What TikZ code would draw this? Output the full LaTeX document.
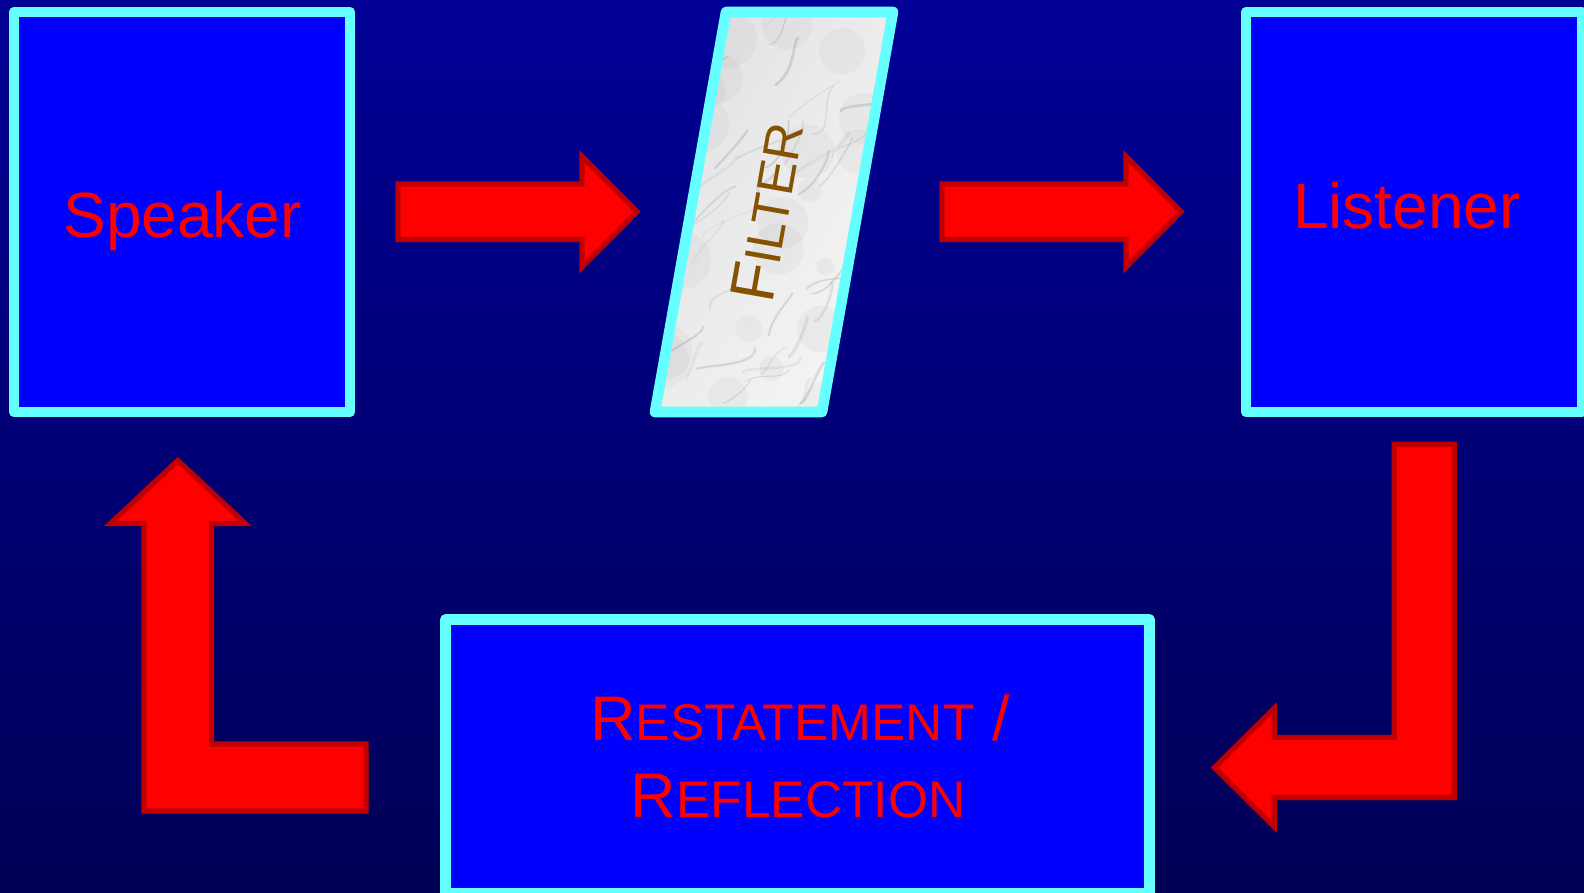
\documentclass[tikz,border=0pt]{standalone}
\usepackage{fontspec}
\setmainfont{Liberation Sans}
\definecolor{bgtop}{RGB}{0,0,150}
\definecolor{bgbot}{RGB}{0,0,86}
\definecolor{boxblue}{RGB}{0,0,255}
\definecolor{rimcyan}{RGB}{102,255,255}
\definecolor{arrowred}{RGB}{255,0,0}
\definecolor{arrowedge}{RGB}{192,0,0}
\definecolor{labelred}{RGB}{255,0,0}
\definecolor{filterbrown}{RGB}{133,82,0}
\definecolor{marblelight}{RGB}{246,246,246}
\definecolor{marbledark}{RGB}{226,226,228}
\definecolor{vein}{RGB}{120,120,128}

% a capital letter followed by small capitals
\newcommand\capsc[2]{{\fontsize{63}{63}\selectfont #1}{\fontsize{51.5}{51.5}\selectfont #2}}

\begin{document}
\begin{tikzpicture}[x=1pt,y=-1pt,
  panel/.style={draw=rimcyan, fill=boxblue, line width=10.6pt, line join=round,
    rectangle, inner sep=0pt, outer sep=0pt},
  panellabel/.style={text=labelred, inner sep=0pt, anchor=base,
    font=\fontsize{64}{64}\selectfont},
  blockarrow/.style={fill=arrowred, draw=arrowedge, line width=5.3pt, line join=miter}
]
\useasboundingbox (0,0) rectangle (1584,892);
\clip (0,0) rectangle (1584,892);

% background
\shade[top color=bgtop, bottom color=bgbot] (0,0) rectangle (1584,892);

% panels
\node[panel, minimum width=336pt, minimum height=400pt] (speaker) at (182,212) {};
\node[panellabel] (speakertext) at (182.5,237) {Speaker};

\node[panel, minimum width=336pt, minimum height=400pt] (listener) at (1414,212) {};
\node[panellabel] (listenertext) at (1407,228) {Listener};

\node[panel, minimum width=704pt, minimum height=274pt] (restate) at (797.5,756.5) {};
\node[text=labelred, inner sep=0pt, anchor=base] (restateA) at (800,740) {\capsc{R}{ESTATEMENT}{\fontsize{63}{63}\selectfont\ /}};
\node[text=labelred, inner sep=0pt, anchor=base] (restateB) at (798,817) {\capsc{R}{EFLECTION}};

% filter: slanted marble slab
\coordinate (ftl) at (726,12);
\coordinate (ftr) at (893,12);
\coordinate (fbr) at (822,412);
\coordinate (fbl) at (655,412);
\begin{scope}
  \clip (ftl) -- (ftr) -- (fbr) -- (fbl) -- cycle;
  \shade[left color=marbledark, right color=marblelight, shading angle=60]
    (640,0) rectangle (910,420);
  \pgfmathsetseed{17}
  % soft grey clouding
  \foreach \i in {1,...,40}{
    \pgfmathsetmacro\bx{650+rnd*250}
    \pgfmathsetmacro\by{10+rnd*400}
    \pgfmathsetmacro\br{8+rnd*22}
    \fill[vein, opacity=0.06] (\bx,\by) circle (\br pt);
  }
  % thin wandering veins
  \foreach \i in {1,...,55}{
    \pgfmathsetmacro\ax{640+rnd*260}
    \pgfmathsetmacro\ay{rnd*430}
    \pgfmathsetmacro\ex{\ax+15+rnd*45}
    \pgfmathsetmacro\ey{\ay-10-rnd*40}
    \pgfmathsetmacro\cx{\ax+rnd*30-8}
    \pgfmathsetmacro\cy{\ay+rnd*20-18}
    \pgfmathsetmacro\dx{\ex+rnd*20-14}
    \pgfmathsetmacro\dy{\ey+rnd*20-2}
    \pgfmathsetmacro\lw{0.8+rnd*2.2}
    \pgfmathsetmacro\op{0.08+rnd*0.16}
    \draw[vein, opacity=\op, line width=\lw pt, line cap=round]
      (\ax,\ay) .. controls (\cx,\cy) and (\dx,\dy) .. (\ex,\ey);
  }
\end{scope}
\draw[rimcyan, line width=10.6pt, line join=round] (ftl) -- (ftr) -- (fbr) -- (fbl) -- cycle;
\node[text=filterbrown, inner sep=0pt, rotate=80] (filtertext) at (767,212) {\capsc{F}{ILTER}};

% block arrows
\draw[blockarrow] (398,184) -- (582,184) -- (582,156.4) -- (637,211.7)
  -- (582,267) -- (582,239.4) -- (398,239.4) -- cycle;
\draw[blockarrow] (942,184) -- (1126,184) -- (1126,156.4) -- (1181,211.7)
  -- (1126,267) -- (1126,239.4) -- (942,239.4) -- cycle;
\draw[blockarrow] (1394.2,444.2) -- (1454.2,444.2) -- (1454.2,797.5)
  -- (1274.2,797.5) -- (1274.2,826.5) -- (1214.5,767.5) -- (1274.2,708.5)
  -- (1274.2,737.5) -- (1394.2,737.5) -- cycle;
\draw[blockarrow] (144,811) -- (144,523.5) -- (110.5,523.5) -- (177.8,460.5)
  -- (245.2,523.5) -- (211.5,523.5) -- (211.5,744) -- (366,744) -- (366,811) -- cycle;
\end{tikzpicture}
\end{document}
